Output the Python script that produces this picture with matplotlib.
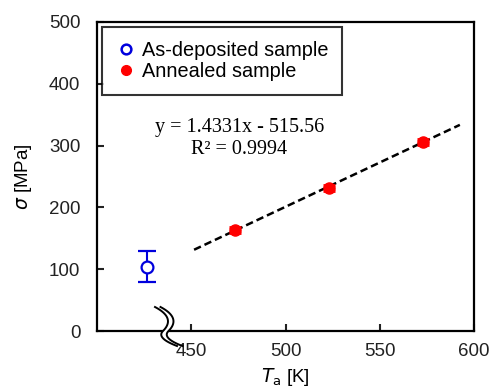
import numpy as np
import matplotlib.pyplot as plt
import matplotlib.patches as patches
from matplotlib.lines import Line2D

# data
dep_T = [426.5]
dep_sigma = [104]
dep_err = [25]

ann_T = [473, 523, 573]
ann_sigma = [164, 232, 306]
ann_err = [5, 5, 5]

fit_slope = 1.4331
fit_icpt = -515.56
fit_range = [451.5, 592.5]

xticks = [450, 500, 550, 600]
yticks = [0, 100, 200, 300, 400, 500]

plt.rcParams['font.family'] = ['Liberation Sans', 'DejaVu Sans']
W, H = 491, 391

fig = plt.figure(figsize=(W / 100, H / 100), dpi=100)
ax = fig.add_axes([97 / W, 1 - 331 / H, 377 / W, 309 / H])

ax.errorbar(dep_T, dep_sigma, yerr=dep_err, fmt='o', mfc='white', mec='#0000dd',
            ecolor='#0000dd', ms=8.5, mew=1.6, capsize=6.5, elinewidth=1.5, capthick=1.5,
            zorder=4)
ax.errorbar(ann_T, ann_sigma, yerr=ann_err, fmt='o', color='red', ms=8,
            capsize=4.5, elinewidth=1.5, capthick=2, zorder=4)

xf = np.array(fit_range)
ax.plot(xf, fit_slope * xf + fit_icpt, '--', color='black', lw=1.8, dashes=(3, 1.6), zorder=3)

ax.text(0.377, 0.66, 'y = 1.4331x - 515.56', transform=ax.transAxes, ha='center',
        va='center', family='Liberation Serif', fontsize=14.5)
ax.text(0.377, 0.586, 'R² = 0.9994', transform=ax.transAxes, ha='center',
        va='center', family='Liberation Serif', fontsize=14.5)

ax.set_xlim(400, 600)
ax.set_ylim(0, 500)
ax.set_xticks(xticks)
ax.set_yticks(yticks)
ax.tick_params(direction='in', length=5, width=1.5, labelsize=13.5, colors='#222222', pad=9)
ax.tick_params(axis='y', pad=12)
for s in ax.spines.values():
    s.set_linewidth(1.6)
    s.set_color('black')

ax.set_xlabel(r'$T_\mathrm{a}$ [K]', fontsize=13.5, labelpad=4)
ax.set_ylabel(r'$\sigma$ [MPa]', fontsize=13.5, labelpad=11)

handles = [
    Line2D([], [], ls='none', marker='o', mfc='white', mec='#0000dd', ms=7, mew=1.8),
    Line2D([], [], ls='none', marker='o', color='red', ms=7),
]
leg = ax.legend(handles, ['As-deposited sample', 'Annealed sample'], loc='upper left',
                fontsize=14.3, frameon=True, fancybox=False, edgecolor='black',
                handletextpad=0.3, borderpad=0.7, handlelength=1.0,
                labelspacing=0.12, borderaxespad=0.25)
leg.get_frame().set_linewidth(1.5)

# axis break symbol, drawn in figure pixels
def quad(p0, c, p1, n=30):
    t = np.linspace(0, 1, n)[:, None]
    p0, c, p1 = map(np.array, (p0, c, p1))
    return (1 - t) ** 2 * p0 + 2 * (1 - t) * t * c + t ** 2 * p1

c_left = np.vstack([quad((155, 307), (176, 318), (163, 331)),
                    quad((163, 331), (156, 338), (177, 346))])
c_right = c_left + np.array([5.5, 0])

def to_fig(pts):
    return np.column_stack([pts[:, 0] / W, 1 - pts[:, 1] / H])

poly = np.vstack([to_fig(c_left), to_fig(c_right)[::-1]])
fig.add_artist(patches.Polygon(poly, closed=True, facecolor='white', edgecolor='white',
                               lw=0.5, transform=fig.transFigure, zorder=5))
for c in (c_left, c_right):
    p = to_fig(c)
    fig.add_artist(Line2D(p[:, 0], p[:, 1], color='black', lw=1.4,
                          transform=fig.transFigure, zorder=6))

fig.savefig('out.png', dpi=100)
